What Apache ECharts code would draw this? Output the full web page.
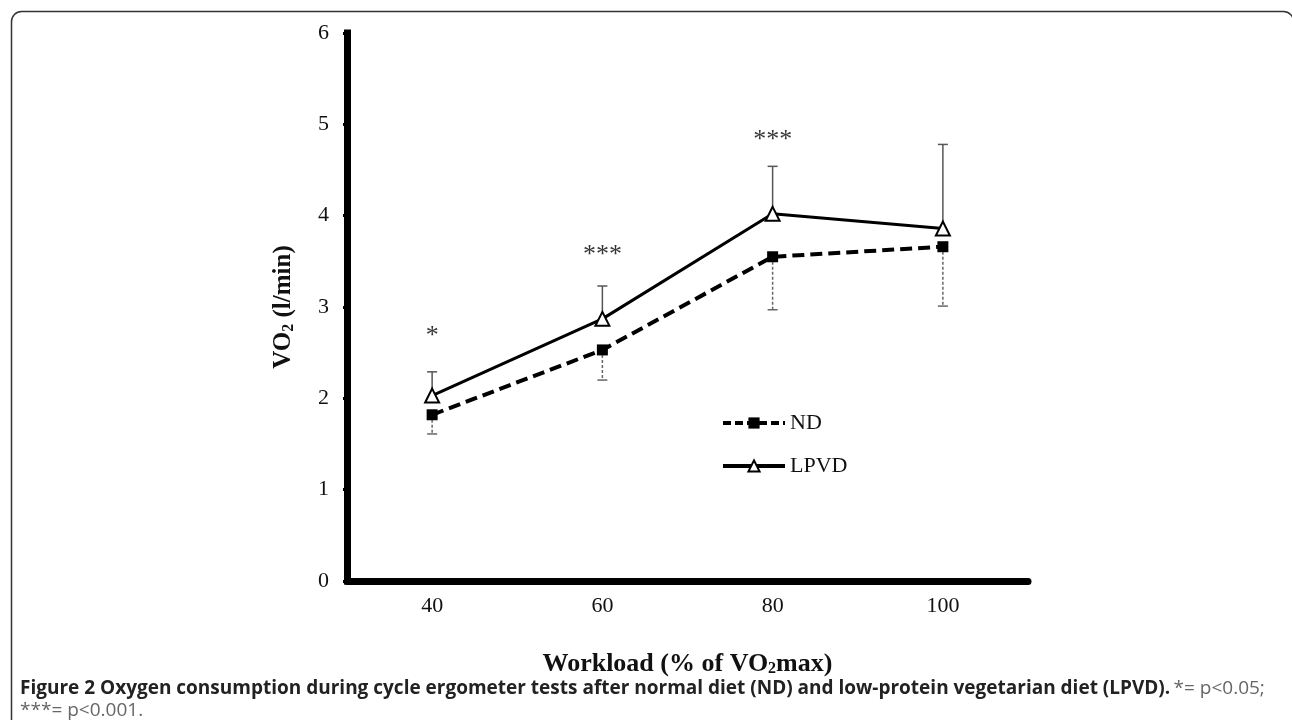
<!DOCTYPE html>
<html>
<head>
<meta charset="utf-8">
<script src="https://cdn.jsdelivr.net/npm/echarts@6/dist/echarts.min.js"></script>
<style>
html,body{margin:0;padding:0;background:#fff;}
#c{width:1292px;height:720px;}
</style>
</head>
<body>
<div id="c"></div>
<script>
// ---- data ----
var categories = ['40', '60', '80', '100'];
var ndMean = [1.82, 2.53, 3.55, 3.66];
var ndLow = [1.61, 2.20, 2.97, 3.01];      // lower end of ND error bars
var lpvdMean = [2.03, 2.87, 4.02, 3.86];
var lpvdHigh = [2.29, 3.23, 4.54, 4.78];   // upper end of LPVD error bars
var sigLabels = ['*', '***', '***'];
var sigPos = [2.68, 3.57, 4.83];
var yTicks = [0, 1, 2, 3, 4, 5, 6];

var serif = '"Liberation Serif", "Times New Roman", serif';

function errItem(color, dash) {
  return function (params, api) {
    var p0 = api.coord([api.value(0), api.value(1)]);
    var p1 = api.coord([api.value(0), api.value(2)]);
    return {
      type: 'group',
      children: [
        { type: 'line', shape: { x1: p0[0], y1: p0[1], x2: p1[0], y2: p1[1] },
          style: { stroke: color, lineWidth: 1.5, lineDash: dash } },
        { type: 'line', shape: { x1: p1[0] - 5, y1: p1[1], x2: p1[0] + 5, y2: p1[1] },
          style: { stroke: color, lineWidth: 1.5 } }
      ]
    };
  };
}

var chart = echarts.init(document.getElementById('c'), null, { renderer: 'canvas' });

var nameRich = { sub: { fontFamily: serif, fontSize: 16, fontWeight: 'bold', color: '#111', verticalAlign: 'bottom', padding: [10, 0, 0, 0] } };

var option = {
  animation: false,
  backgroundColor: '#fff',
  grid: { left: 347, right: 264, top: 33, bottom: 139, containLabel: false },
  xAxis: {
    type: 'category',
    data: categories,
    boundaryGap: true,
    name: 'Workload (% of VO{sub|2}max)',
    nameLocation: 'middle',
    nameGap: 70,
    nameTextStyle: { fontFamily: serif, fontSize: 26, fontWeight: 'bold', color: '#111', rich: nameRich },
    axisLine: { show: true, lineStyle: { color: '#000', width: 7 } },
    axisTick: { show: true, alignWithLabel: true, length: 4, lineStyle: { color: '#000', width: 3 } },
    axisLabel: { margin: 14, fontFamily: serif, fontSize: 22, color: '#111' },
    splitLine: { show: false }
  },
  yAxis: {
    type: 'value',
    min: 0, max: 6, interval: 1,
    name: 'VO{sub|2} (l/min)',
    nameLocation: 'middle',
    nameRotate: 90,
    nameGap: 50,
    nameTextStyle: { fontFamily: serif, fontSize: 25, fontWeight: 'bold', color: '#111', rich: nameRich },
    axisLine: { show: true, lineStyle: { color: '#000', width: 7, cap: 'square' } },
    axisTick: { show: true, length: 4, lineStyle: { color: '#000', width: 3 } },
    axisLabel: { margin: 18, fontFamily: serif, fontSize: 22, color: '#111',
      formatter: function (v) { return yTicks.indexOf(v) >= 0 ? String(v) : ''; } },
    splitLine: { show: false }
  },
  legend: {
    data: [
      { name: 'ND', lineStyle: { width: 4, type: [8, 4] } },
      { name: 'LPVD', lineStyle: { width: 4 } }
    ],
    orient: 'vertical',
    left: 721,
    top: 412,
    padding: 0,
    itemWidth: 62,
    itemHeight: 14,
    itemGap: 21,
    textStyle: { fontFamily: serif, fontSize: 22, color: '#111' },
    selectedMode: false
  },
  series: [
    {
      name: 'ND errors', type: 'custom', z: 1,
      renderItem: errItem('#666', [3, 2]),
      data: categories.map(function (c, i) { return [i, ndMean[i], ndLow[i]]; }),
      silent: true
    },
    {
      name: 'LPVD errors', type: 'custom', z: 1,
      renderItem: errItem('#555', null),
      data: categories.map(function (c, i) { return [i, lpvdMean[i], lpvdHigh[i]]; }),
      silent: true
    },
    {
      name: 'ND', type: 'line', z: 3,
      data: ndMean,
      symbol: 'rect', symbolSize: 11,
      lineStyle: { color: '#000', width: 4, type: [12, 6] },
      itemStyle: { color: '#000', borderColor: '#000', borderWidth: 0 },
      showSymbol: true
    },
    {
      name: 'LPVD', type: 'line', z: 4,
      data: lpvdMean,
      symbol: 'triangle', symbolSize: 14,
      lineStyle: { color: '#000', width: 3 },
      itemStyle: { color: '#fff', borderColor: '#000', borderWidth: 2 },
      showSymbol: true
    },
    {
      name: 'sig', type: 'scatter', z: 5,
      symbolSize: 0,
      data: sigPos.map(function (v, i) { return [i, v]; }),
      label: {
        show: true, position: 'inside',
        fontFamily: serif, fontSize: 26, color: '#000',
        formatter: function (p) { return sigLabels[p.dataIndex]; }
      },
      silent: true
    }
  ],
  graphic: [
    {
      type: 'rect', left: 9, top: 9,
      shape: { x: 0, y: 0, width: 1282, height: 800, r: 10 },
      style: { fill: 'none', stroke: '#333', lineWidth: 1.5 },
      silent: true
    },
    {
      type: 'text', left: 20, top: 679,
      style: {
        text: '{b|Figure 2 Oxygen consumption during cycle ergometer tests after normal diet (ND) and low-protein vegetarian diet (LPVD).} {r|*= p<0.05;}\n{r|***= p<0.001.}',
        rich: {
          b: { fontFamily: '"Open Sans", sans-serif', fontWeight: 'bold', fontSize: 19, fill: '#222', lineHeight: 22 },
          r: { fontFamily: '"Open Sans", sans-serif', fontSize: 19, fill: '#666', lineHeight: 22 }
        }
      }
    }
  ]
};

chart.setOption(option);
</script>
</body>
</html>
